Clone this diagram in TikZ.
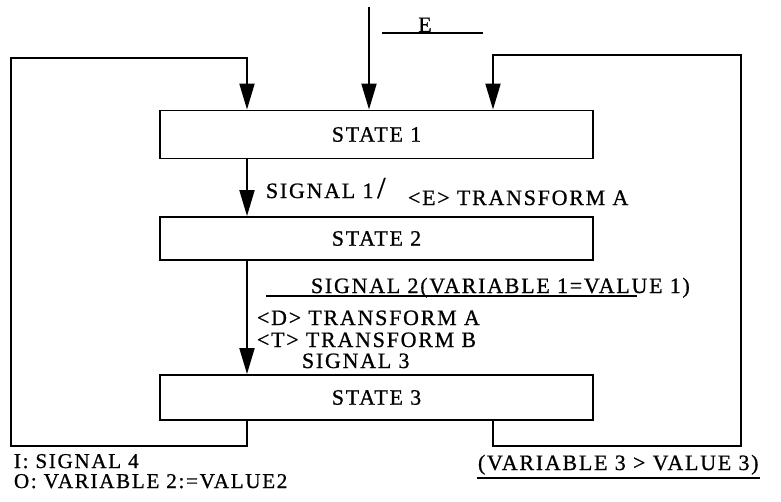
\documentclass[tikz,border=0pt]{standalone}
\usepackage{fontspec}
\setmainfont{Liberation Serif}
\newfontfamily\diagfont[LetterSpace=8, FakeBold=0.8]{Liberation Serif}
\usetikzlibrary{arrows.meta}
\begin{document}
\begin{tikzpicture}[x=0.02cm, y=-0.02cm, line width=1.1pt,
  >={Triangle[length=0.52cm, width=0.3cm]},
  zustand/.style={draw, minimum width=8.66cm, inner sep=0pt,
    font=\diagfont\fontsize{12.5}{14}\selectfont},
  txt/.style={inner sep=0pt, anchor=base west,
    font=\diagfont\fontsize{12.5}{14}\selectfont}]
\useasboundingbox (0,0) rectangle (781,501);
% Zustaende
\node[zustand, minimum height=0.96cm] (st1) at (376.5,134.5) {STATE 1};
\node[zustand, minimum height=0.86cm] (st2) at (376.5,238.5) {STATE 2};
\node[zustand, minimum height=0.90cm] (st3) at (376.5,397.5) {STATE 3};
% Hilfspunkte fuer die Linien
\coordinate (xl)  at (247,0);
\coordinate (xr)  at (493,0);
\coordinate (ein) at (369,7);
\coordinate (bl)  at (11,446);
\coordinate (tl)  at (11,58);
\coordinate (br)  at (741,446);
\coordinate (tr)  at (741,55);
% Eingang E
\draw[->] (ein) -- (st1.north -| ein);
\coordinate (eL) at (382,33);
\coordinate (eR) at (483,33);
\draw[line width=0.9pt] (eL) -- (eR);
\node[txt, anchor=base] (ev) at (425,32) {E};
% Uebergaenge nach unten
\draw[->] (st1.south -| xl) -- (st2.north -| xl);
\draw[->] (st2.south -| xl) -- (st3.north -| xl);
% Schleifen zurueck zu STATE 1
\draw[->] (st3.south -| xl) |- (bl) -- (tl) -| (st1.north -| xl);
\draw[->] (st3.south -| xr) |- (br) -- (tr) -| (st1.north -| xr);
% Beschriftung STATE 1 -> STATE 2
\node[txt] (sig1) at (265,198) {SIGNAL 1\,{\LARGE /}};
\node[txt] (trA) at (407,205) {<E> TRANSFORM A};
% Beschriftung STATE 2 -> STATE 3
\node[txt] (sig2) at (310,293) {SIGNAL 2(VARIABLE 1=VALUE 1)};
\coordinate (s2L) at (266,296);
\coordinate (s2R) at (637,296);
\draw[line width=0.9pt] (s2L) -- (s2R);
\node[txt] (trD) at (256,325) {<D> TRANSFORM A};
\node[txt] (trT) at (256,347) {<T> TRANSFORM B};
\node[txt] (sig3) at (301,368) {SIGNAL 3};
% Beschriftung der Schleifen
\node[txt, font=\diagfont\fontsize{12}{14}\selectfont] (in4) at (13,468) {I: SIGNAL 4};
\node[txt, font=\diagfont\fontsize{12}{14}\selectfont] (out2) at (13,488) {O: VARIABLE 2:=VALUE2};
\node[txt] (cond) at (477,470) {(VARIABLE 3 > VALUE 3)};
\draw[line width=0.9pt] ([yshift=-1.5pt]cond.south west) -- ([yshift=-1.5pt]cond.south east);
\end{tikzpicture}
\end{document}
